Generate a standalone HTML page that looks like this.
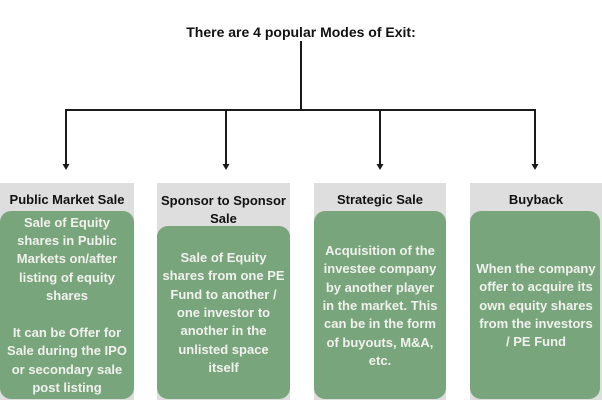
<!DOCTYPE html>
<html>
<head>
<meta charset="utf-8">
<style>
  html, body { margin:0; padding:0; }
  body { width:602px; height:418px; background:#ffffff; position:relative; overflow:hidden;
         font-family:"Liberation Sans", "DejaVu Sans", sans-serif; font-weight:bold; }
  .title { position:absolute; left:0; width:602px; top:23px; text-align:center; font-size:14px; color:#111; line-height:18px; }
  .panel { position:absolute; top:183px; height:217px; background:#dedede; }
  .green { position:absolute; left:0; right:0; bottom:1px; background:#78a57b; border-radius:11px; }
  .head { position:absolute; left:0; right:0; text-align:center; font-size:13px; color:#111; line-height:18px; }
  .txt { position:absolute; left:-4px; right:-4px; text-align:center; font-size:13px; color:#f1f1ee; line-height:18.4px; }
</style>
</head>
<body>
<div class="title">There are 4 popular Modes of Exit:</div>

<svg width="602" height="418" style="position:absolute;left:0;top:0;">
  <g stroke="#1a1a1a" stroke-width="2" fill="none">
    <line x1="301" y1="41" x2="301" y2="110"/>
    <line x1="65" y1="110" x2="536" y2="110"/>
    <line x1="66" y1="109" x2="66" y2="166"/>
    <line x1="226" y1="109" x2="226" y2="166"/>
    <line x1="380" y1="109" x2="380" y2="166"/>
    <line x1="535" y1="109" x2="535" y2="166"/>
  </g>
  <g fill="#1a1a1a">
    <polygon points="62.5,164 69.5,164 66,170"/>
    <polygon points="222.5,164 229.5,164 226,170"/>
    <polygon points="376.5,164 383.5,164 380,170"/>
    <polygon points="531.5,164 538.5,164 535,170"/>
  </g>
</svg>

<!-- Panel 1 -->
<div class="panel" style="left:0;width:134px;">
  <div class="head" style="top:8px;">Public Market Sale</div>
  <div class="green" style="top:28px;"></div>
  <div class="txt" style="top:30.5px;">Sale of Equity<br>shares in Public<br>Markets on/after<br>listing of equity<br>shares<br>&nbsp;<br>It can be Offer for<br>Sale during the IPO<br>or secondary sale<br>post listing</div>
</div>

<!-- Panel 2 -->
<div class="panel" style="left:157px;width:133px;">
  <div class="head" style="top:9px;">Sponsor to Sponsor<br>Sale</div>
  <div class="green" style="top:43px;"></div>
  <div class="txt" style="top:65.8px;">Sale of Equity<br>shares from one PE<br>Fund to another /<br>one investor to<br>another in the<br>unlisted space<br>itself</div>
</div>

<!-- Panel 3 -->
<div class="panel" style="left:314px;width:132px;">
  <div class="head" style="top:8px;">Strategic Sale</div>
  <div class="green" style="top:28px;"></div>
  <div class="txt" style="top:58.8px;">Acquisition of the<br>investee company<br>by another player<br>in the market. This<br>can be in the form<br>of buyouts, M&amp;A,<br>etc.</div>
</div>

<!-- Panel 4 -->
<div class="panel" style="left:470px;width:132px;">
  <div class="head" style="top:8px;">Buyback</div>
  <div class="green" style="top:28px;right:2px;"></div>
  <div class="txt" style="top:76.8px;">When the company<br>offer to acquire its<br>own equity shares<br>from the investors<br>/ PE Fund</div>
</div>
</body>
</html>
